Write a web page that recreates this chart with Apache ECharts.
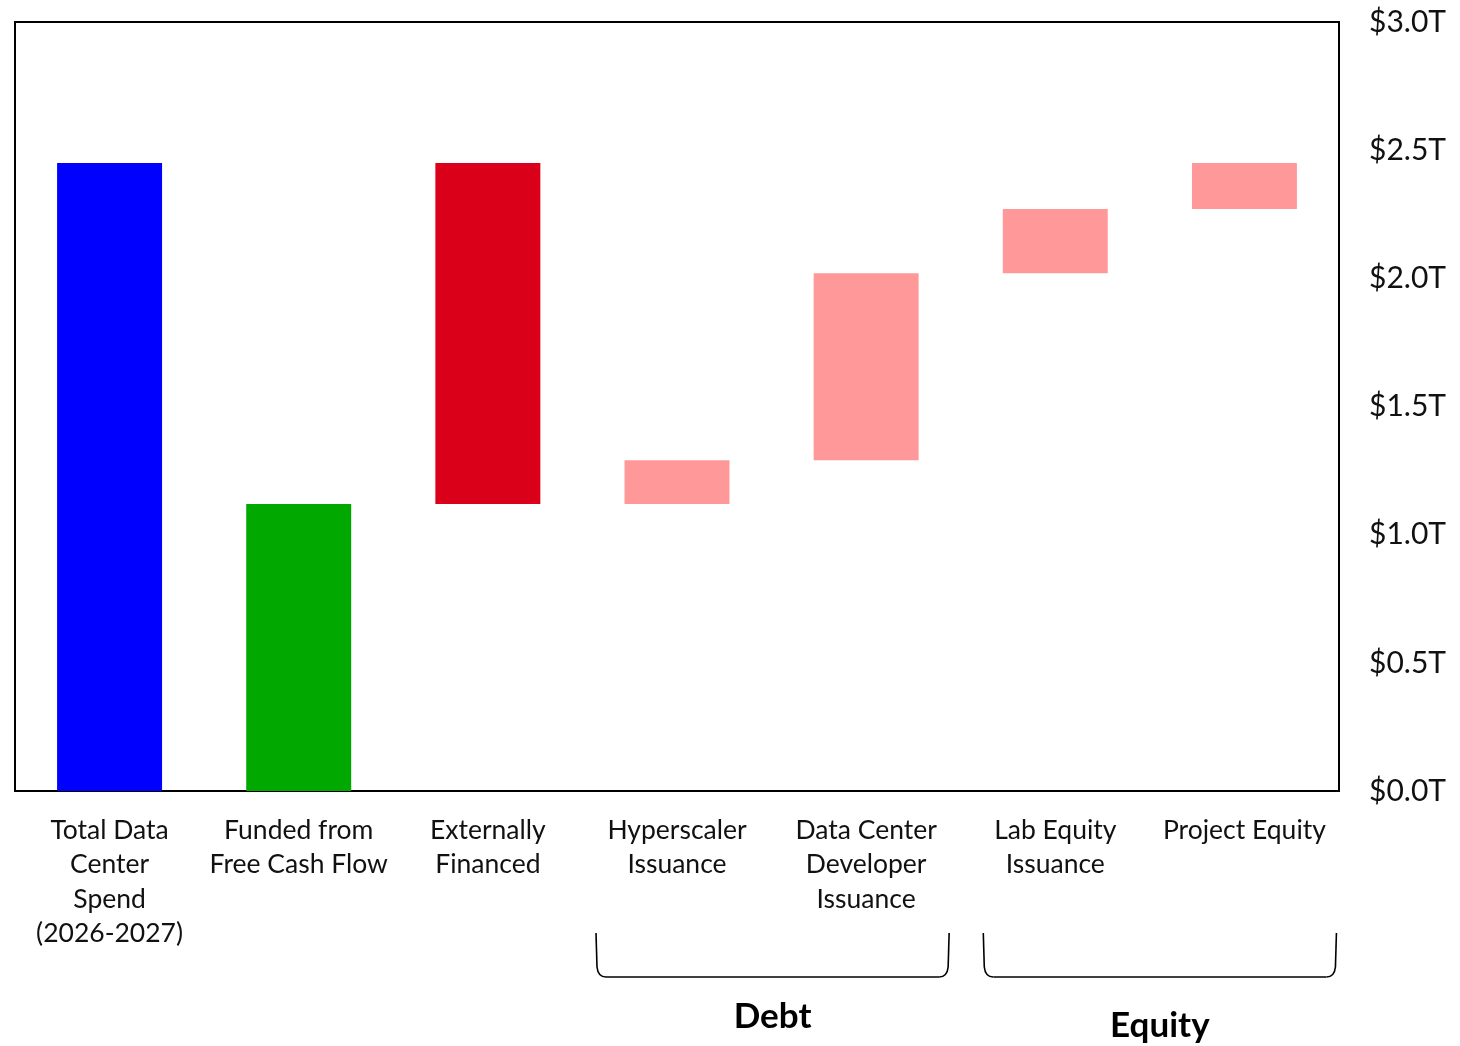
<!DOCTYPE html>
<html>
<head>
<meta charset="utf-8">
<script src="https://cdn.jsdelivr.net/npm/echarts@6/dist/echarts.min.js"></script>
<style>
  html, body { margin: 0; padding: 0; background: #fff; }
  #chart { width: 1460px; height: 1046px; }
</style>
</head>
<body>
<div id="chart"></div>
<script>
// Data center financing waterfall, trillions of USD
const categories = [
  'Total Data\nCenter\nSpend\n(2026-2027)',
  'Funded from\nFree Cash Flow',
  'Externally\nFinanced',
  'Hyperscaler\nIssuance',
  'Data Center\nDeveloper\nIssuance',
  'Lab Equity\nIssuance',
  'Project Equity'
];
// bottom and top of each floating bar
const barStart = [0, 0, 1.12, 1.12, 1.29, 2.02, 2.27];
const barEnd   = [2.45, 1.12, 2.45, 1.29, 2.02, 2.27, 2.45];
const barColors = ['#0000ff', '#00a800', '#da0019', '#ff9999', '#ff9999', '#ff9999', '#ff9999'];
const yTicks = [0, 0.5, 1.0, 1.5, 2.0, 2.5, 3.0];
// groups bracketed beneath the axis
const groups = [
  { name: 'Debt', from: 3, to: 4, padL: 81, padR: 83, labelY: 1017 },
  { name: 'Equity', from: 5, to: 6, padL: 72, padR: 92, labelY: 1026 }
];

const FONT = 'Lato';
const chart = echarts.init(document.getElementById('chart'), null, { renderer: 'canvas' });

chart.setOption({
  animation: false,
  backgroundColor: '#ffffff',
  grid: {
    left: 15, right: 121, top: 22, bottom: 255,
    show: true, borderColor: '#000', borderWidth: 2, backgroundColor: 'transparent'
  },
  xAxis: {
    type: 'category',
    data: categories,
    axisLine: { show: false },
    axisTick: { show: false },
    axisLabel: {
      interval: 0, margin: 22, fontFamily: FONT, fontSize: 26.5, lineHeight: 34.5,
      color: '#111', align: 'center', verticalAlign: 'top'
    }
  },
  yAxis: {
    type: 'value',
    position: 'right',
    min: yTicks[0], max: yTicks[yTicks.length - 1], interval: 0.5,
    splitLine: { show: false },
    axisLine: { show: false },
    axisTick: { show: false },
    axisLabel: {
      margin: 30, fontFamily: FONT, fontSize: 30, color: '#111',
      formatter: v => '$' + v.toFixed(1) + 'T'
    }
  },
  series: [
    {
      type: 'bar', stack: 'w', silent: true,
      barWidth: '55.5%',
      itemStyle: { color: 'transparent' },
      data: barStart
    },
    {
      type: 'bar', stack: 'w',
      barWidth: '55.5%',
      data: barEnd.map((v, i) => ({
        value: +(v - barStart[i]).toFixed(4),
        itemStyle: { color: barColors[i] }
      }))
    }
  ]
});

// Brackets and group labels positioned from the category axis
const graphics = [];
const stroke = { stroke: '#000', lineWidth: 1.6, fill: 'none' };
groups.forEach(g => {
  const x0 = chart.convertToPixel({ xAxisIndex: 0 }, g.from) - g.padL;
  const x1 = chart.convertToPixel({ xAxisIndex: 0 }, g.to) + g.padR;
  const yTop = 933, yBot = 977, r = 10;
  graphics.push(
    { type: 'line', shape: { x1: x0, y1: yTop, x2: x0 + 1, y2: yBot - r }, style: stroke },
    { type: 'bezierCurve', shape: { x1: x0 + 1, y1: yBot - r, cpx1: x0 + 2, cpy1: yBot, x2: x0 + r, y2: yBot }, style: stroke },
    { type: 'line', shape: { x1: x0 + r, y1: yBot, x2: x1 - r, y2: yBot }, style: stroke },
    { type: 'bezierCurve', shape: { x1: x1 - r, y1: yBot, cpx1: x1 - 2, cpy1: yBot, x2: x1 - 1, y2: yBot - r }, style: stroke },
    { type: 'line', shape: { x1: x1 - 1, y1: yBot - r, x2: x1, y2: yTop }, style: stroke },
    {
      type: 'text',
      x: (x0 + x1) / 2, y: g.labelY,
      style: {
        text: g.name, fontFamily: FONT, fontSize: 35, fontWeight: 'bold',
        fill: '#000', align: 'center', verticalAlign: 'middle'
      }
    }
  );
});
chart.setOption({ graphic: graphics });
</script>
</body>
</html>
